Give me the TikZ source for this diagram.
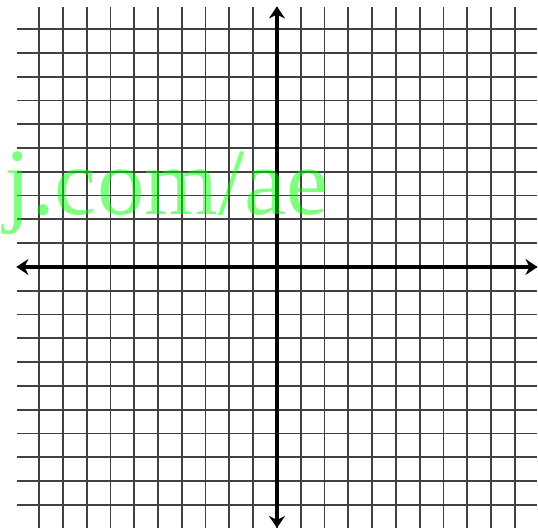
\documentclass[tikz,border=0pt]{standalone}
\usepackage{fontspec}
\setmainfont{Liberation Serif}
\usetikzlibrary{arrows.meta}
\tikzset{
  gridline/.style={black!75,line width=1.8pt},
  axisline/.style={black,line width=4pt,{Stealth[length=12pt,width=16pt]}-{Stealth[length=12pt,width=16pt]}},
  watermark/.style={inner sep=0pt,anchor=base west,text=green,text opacity=0.5,font=\fontsize{95}{95}\selectfont}
}
\begin{document}
\begin{tikzpicture}[x=23.8pt,y=23.8pt]
  \useasboundingbox (-11.64,-11.01) rectangle (10.97,11.22);
  \foreach \i in {-10,...,10} {
    \draw[gridline] (-10.92,\i) -- (10.92,\i);
    \draw[gridline] (\i,-10.97) -- (\i,10.92);
  }
  \coordinate (xl) at (-10.95,0); \coordinate (xr) at (10.95,0);
  \coordinate (yb) at (0,-10.97); \coordinate (yt) at (0,10.95);
  \draw[axisline] (xl) -- (xr);
  \draw[axisline] (yb) -- (yt);
  \node[watermark] (wm) at (-11.45,2.2) {j.com/ae};
\end{tikzpicture}
\end{document}
